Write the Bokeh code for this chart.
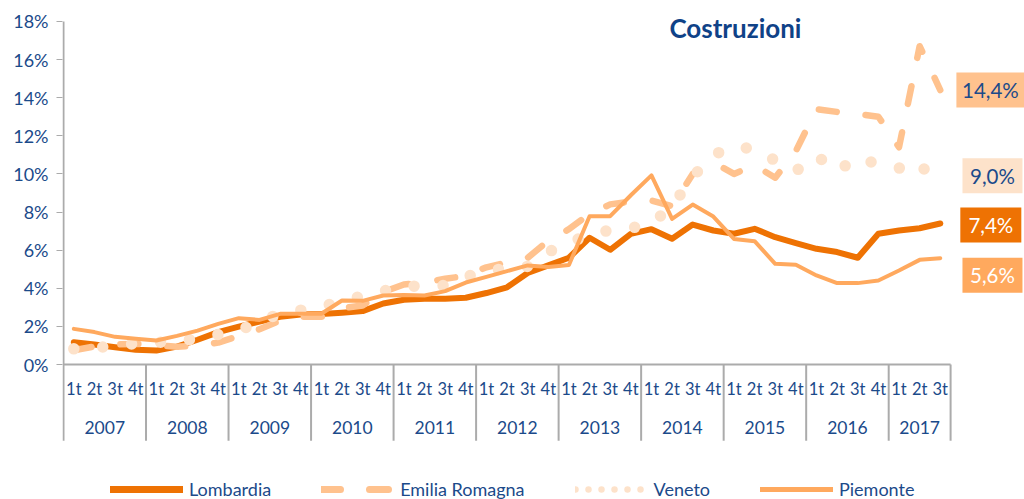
from bokeh.plotting import figure
from bokeh.models import Range1d, FixedTicker, Legend, LegendItem, ColumnDataSource
from bokeh.core.properties import value
from bokeh.embed import file_html
from bokeh.resources import INLINE

# ---------------- data ----------------
years = ["2007", "2008", "2009", "2010", "2011", "2012", "2013", "2014", "2015", "2016", "2017"]
quarters_per_year = [4, 4, 4, 4, 4, 4, 4, 4, 4, 4, 3]
quarter_names = ["1t", "2t", "3t", "4t"]
y_ticks = [0, 2, 4, 6, 8, 10, 12, 14, 16, 18]

lombardia = [1.17, 1.05, 0.91, 0.77, 0.73, 0.94, 1.30, 1.70, 1.99, 2.25, 2.50, 2.62,
             2.65, 2.72, 2.80, 3.20, 3.40, 3.45, 3.45, 3.50, 3.75, 4.05, 4.80, 5.20,
             5.60, 6.65, 6.02, 6.85, 7.10, 6.60, 7.34, 7.03, 6.86, 7.12, 6.68, 6.37,
             6.07, 5.90, 5.60, 6.86, 7.03, 7.15, 7.40]
emilia = [0.75, 0.95, 1.05, 1.08, 1.02, 0.93, 1.00, 1.15, 1.50, 1.85, 2.30, 2.50,
          2.50, 2.95, 3.10, 3.80, 4.20, 4.30, 4.50, 4.65, 5.10, 5.35, 5.60, 6.50,
          7.10, 7.90, 8.40, 8.55, 8.60, 8.30, 10.00, 10.60, 10.00, 10.45, 9.80, 11.20,
          13.40, 13.25, 13.15, 13.00, 11.40, 16.70, 14.40]
veneto = [0.82, 0.88, 0.98, 1.10, 1.15, 1.23, 1.35, 1.58, 1.80, 2.20, 2.70, 2.85,
          3.05, 3.30, 3.60, 3.85, 4.10, 4.12, 4.15, 4.60, 4.90, 5.05, 5.15, 5.90,
          6.40, 6.80, 7.05, 7.15, 7.40, 8.30, 9.85, 11.00, 11.45, 11.30, 10.70, 10.15,
          10.95, 10.15, 10.85, 10.50, 10.30, 10.60, 9.00]
piemonte = [1.87, 1.70, 1.45, 1.35, 1.26, 1.50, 1.78, 2.13, 2.43, 2.34, 2.66, 2.66,
            2.66, 3.36, 3.34, 3.62, 3.65, 3.62, 3.85, 4.30, 4.60, 4.90, 5.20, 5.12,
            5.22, 7.78, 7.78, 8.88, 9.92, 7.64, 8.39, 7.76, 6.59, 6.47, 5.28, 5.23,
            4.67, 4.27, 4.27, 4.41, 4.93, 5.49, 5.58]
end_labels = ["14,4%", "9,0%", "7,4%", "5,6%"]

# ---------------- styles ----------------
NAVY = "#1B4A8A"
TITLE = "#0F4287"
GRAY = "#ABABAB"
C_LOM = "#EE7203"
C_EMI = "#FFC28E"
C_VEN = "#FDE2CA"
C_PIE = "#FFA95E"
FONT = "Lato"

W, H = 1024, 499
PX_X = 20.63           # pixels per quarter
PX_Y = 19.06           # pixels per percentage point
LEFT = 62              # frame left inside figure
ZERO_Y = 364           # pixel row of 0%
x0 = -1.0 / PX_X
x1 = x0 + (W - LEFT) / PX_X
ytop = ZERO_Y / PX_Y
ybot = ytop - H / PX_Y

p = figure(width=W, height=H, output_backend="svg", toolbar_location=None,
           x_range=Range1d(x0, x1), y_range=Range1d(ybot, ytop),
           x_axis_location=None, min_border_left=LEFT, min_border_right=0,
           min_border_top=0, min_border_bottom=0)
p.outline_line_color = None
p.ygrid.visible = False
p.xgrid.visible = False
p.background_fill_color = "white"

ax = p.yaxis[0]
ax.ticker = FixedTicker(ticks=y_ticks)
ax.major_label_overrides = {t: f"{t}%" for t in y_ticks}
ax.axis_line_color = None
ax.major_tick_line_color = GRAY
ax.major_tick_line_width = 1
ax.major_tick_out = 6
ax.major_tick_in = 0
ax.minor_tick_line_color = None
ax.major_label_standoff = 8
ax.major_label_text_font = FONT
ax.major_label_text_font_size = "18px"
ax.major_label_text_color = NAVY

n = len(lombardia)
xs = [i + 0.5 for i in range(n)]

# axis frame lines
y_axis_bottom = -4.0
p.segment(x0=[0], y0=[y_axis_bottom], x1=[0], y1=[max(y_ticks)], line_color=GRAY, line_width=2)
p.segment(x0=[0], y0=[0], x1=[n], y1=[0], line_color=GRAY, line_width=2)
bounds = [0]
for q in quarters_per_year:
    bounds.append(bounds[-1] + q)
p.segment(x0=bounds[1:], y0=[0] * (len(bounds) - 1), x1=bounds[1:],
          y1=[y_axis_bottom] * (len(bounds) - 1), line_color=GRAY, line_width=2)

q_text = []
for q in quarters_per_year:
    q_text += quarter_names[:q]
p.text(x=xs, y=[-1.26] * n, text=q_text, text_align="center", text_baseline="middle",
       text_font=value(FONT), text_font_size="16.5px", text_color=NAVY)
year_x = [(bounds[i] + bounds[i + 1]) / 2 for i in range(len(years))]
p.text(x=year_x, y=[-3.3] * len(years), text=years, text_align="center", text_baseline="middle",
       text_font=value(FONT), text_font_size="17.5px", text_color=NAVY)

# series
r_lom = p.line(xs, lombardia, line_color=C_LOM, line_width=6, line_join="round", line_cap="round")
r_emi = p.line(xs, emilia, line_color=C_EMI, line_width=6.5, line_dash="18 29",
               line_join="round", line_cap="round")
r_ven = p.line(xs, veneto, line_color=C_VEN, line_width=11.5, line_dash="0 29",
               line_join="round", line_cap="round")
r_pie = p.line(xs, piemonte, line_color=C_PIE, line_width=4, line_join="round", line_cap="round")

# end labels
last = [emilia[-1], veneto[-1], lombardia[-1], piemonte[-1]]
dy = [0.0, 0.9, -0.08, -0.9]
dx = [1.93, 2.03, 1.95, 2.03]
bw = [68, 60, 61, 60]
box_colors = [C_EMI, C_VEN, C_LOM, C_PIE]
txt_colors = [NAVY, NAVY, "white", "white"]
lx = [n + d for d in dx]
ly = [v + d for v, d in zip(last, dy)]
p.rect(x=lx, y=ly, width=bw, height=[35] * 4, width_units="screen", height_units="screen",
       fill_color=box_colors, line_color=None)
p.text(x=lx, y=ly, text=end_labels, text_color=txt_colors, text_align="center",
       text_baseline="middle", text_font=value(FONT), text_font_size="20.5px")

# title
p.text(x=[32.57], y=[17.63], text=["Costruzioni"], text_align="center", text_baseline="middle",
       text_font=value(FONT), text_font_size="26px", text_font_style="bold", text_color=TITLE)

# legend proxies (one undefined point each, only their legend swatch is visible)
nan = float("nan")
proxy = ColumnDataSource(data=dict(x=[nan], y=[nan]))
g_lom = p.line("x", "y", source=proxy, line_color=C_LOM, line_width=7, line_cap="round")
g_emi = p.line("x", "y", source=proxy, line_color=C_EMI, line_width=7, line_dash="19 29", line_cap="round")
g_ven = p.line("x", "y", source=proxy, line_color=C_VEN, line_width=6.5, line_dash="0 13", line_cap="round")
g_pie = p.line("x", "y", source=proxy, line_color=C_PIE, line_width=5, line_cap="round")

legend = Legend(items=[LegendItem(label="Lombardia", renderers=[g_lom]),
                       LegendItem(label="Emilia Romagna", renderers=[g_emi]),
                       LegendItem(label="Veneto", renderers=[g_ven]),
                       LegendItem(label="Piemonte", renderers=[g_pie])],
                orientation="horizontal", location=(48, -1))
legend.border_line_color = None
legend.background_fill_alpha = 0
legend.padding = 0
legend.margin = 0
legend.spacing = 50
legend.glyph_width = 73
legend.glyph_height = 20
legend.label_height = 20
legend.label_standoff = 6
legend.label_text_font = FONT
legend.label_text_font_size = "18px"
legend.label_text_color = NAVY
p.add_layout(legend)

open("out.html", "w").write(file_html(p, INLINE))
